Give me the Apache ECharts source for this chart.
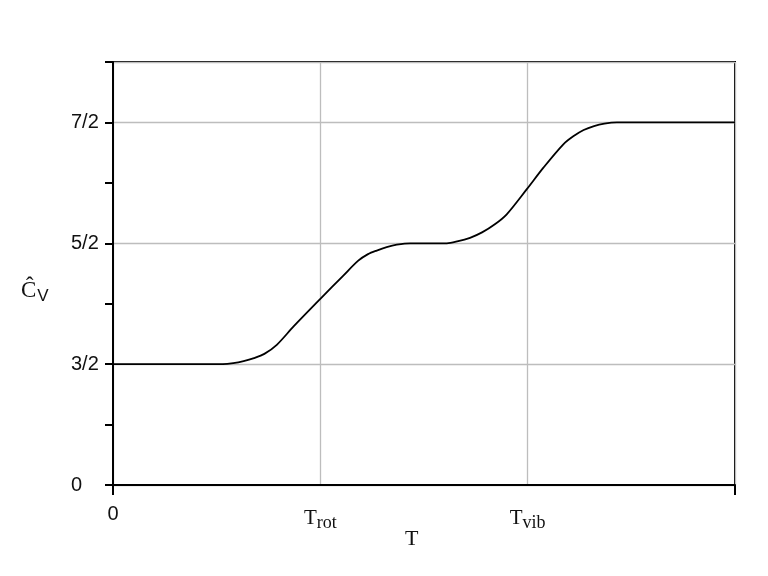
<!DOCTYPE html>
<html>
<head>
<meta charset="utf-8">
<script src="https://cdn.jsdelivr.net/npm/echarts@6/dist/echarts.min.js"></script>
<style>
html,body{margin:0;padding:0;background:#fff;}
#chart{width:768px;height:576px;}
</style>
</head>
<body>
<div id="chart"></div>
<script>
// Temperature in axis units (T_rot = 1, T_vib = 2)
const tValues = [0, 0.53, 0.58, 0.63, 0.68, 0.73, 0.79, 0.87, 1.0, 1.111, 1.183, 1.23, 1.272, 1.32, 1.369, 1.433,
  1.61, 1.66, 1.722, 1.78, 1.84, 1.899, 1.996, 2.076, 2.172, 2.22, 2.27, 2.32, 2.37, 2.43, 3.0];
// Heat capacity (in units of k)
const cvValues = [1.5, 1.5, 1.508, 1.525, 1.55, 1.585, 1.66, 1.81, 2.04, 2.233, 2.356, 2.41, 2.44, 2.468, 2.488, 2.5,
  2.5, 2.515, 2.545, 2.59, 2.655, 2.74, 2.948, 3.126, 3.319, 3.385, 3.437, 3.47, 3.49, 3.5, 3.5];
const yTickValues = [0, 1.5, 2.5, 3.5];
const yTickLabels = ['0', '3/2', '5/2', '7/2'];
const xTickValues = [0, 1, 2];
const xTickLabels = ['{n|0}', '{t|T}{s|rot}', '{t|T}{s|vib}'];

// The vertical axis is not linear: 0, 3/2, 5/2, 7/2 are evenly spaced
function cvToAxis(v) { return v >= 1.5 ? v - 0.5 : v / 1.5; }
const yAxisPos = yTickValues.map(cvToAxis);

const chart = echarts.init(document.getElementById('chart'));
const sans = 'Liberation Sans';
const serif = 'Liberation Serif';
const ink = '#111';
const option = {
  animation: false,
  grid: { left: 113, right: 33, top: 62, bottom: 91, show: true, borderColor: '#000', borderWidth: 2, backgroundColor: 'transparent' },
  xAxis: [
    {
      type: 'value', min: 0, max: 3, interval: 1, position: 'bottom',
      axisLine: { show: true, lineStyle: { color: '#000', width: 2 } },
      axisTick: { show: false },
      splitLine: { show: true, lineStyle: { color: '#bdbdbd', width: 1.3 } },
      axisLabel: {
        margin: 19,
        formatter: function (v) { const i = xTickValues.indexOf(v); return i >= 0 ? xTickLabels[i] : ''; },
        rich: {
          n: { fontFamily: sans, fontSize: 20, color: ink },
          t: { fontFamily: serif, fontSize: 21, color: ink },
          s: { fontFamily: serif, fontSize: 18, color: ink, padding: [10, 0, 0, 0] }
        }
      }
    },
    {
      type: 'value', min: 0, max: 3, interval: 3, position: 'bottom', offset: 0,
      axisLine: { show: false },
      axisTick: { show: true, length: 10, lineStyle: { color: '#000', width: 2 } },
      splitLine: { show: false },
      axisLabel: { show: false }
    }
  ],
  yAxis: [
    {
      type: 'value', min: 0, max: 3.5, interval: 0.5, position: 'left',
      axisLine: { show: true, lineStyle: { color: '#000', width: 2 } },
      axisTick: { show: true, length: 8, lineStyle: { color: '#000', width: 2 } },
      splitLine: { show: false },
      axisLabel: {
        margin: 42, align: 'left', fontFamily: sans, fontSize: 20, color: ink,
        formatter: function (v) { const i = yAxisPos.indexOf(v); return i >= 0 ? yTickLabels[i] : ''; }
      }
    },
    {
      type: 'value', min: 0, max: 3.5, interval: 1, position: 'left', offset: 0,
      axisLine: { show: false }, axisTick: { show: false }, axisLabel: { show: false },
      splitLine: { show: true, lineStyle: { color: '#bdbdbd', width: 1.3 } }
    }
  ],
  graphic: [
    { type: 'text', left: 405, top: 528, style: { text: 'T', font: '22px "Liberation Serif"', fill: ink } },
    { type: 'text', left: 21, top: 279, style: {
        text: '{c|Ĉ}{v|V}',
        rich: {
          c: { fontFamily: serif, fontSize: 23, fill: ink },
          v: { fontFamily: sans, fontSize: 17, fill: ink, padding: [12, 0, 0, 1] }
        }
      } }
  ],
  series: [{
    type: 'line', xAxisIndex: 0, yAxisIndex: 0, showSymbol: false, smooth: 0.3,
    lineStyle: { color: '#000', width: 1.8 },
    data: tValues.map((t, i) => [t, cvToAxis(cvValues[i])]),
    z: 5
  }]
};
chart.setOption(option);
</script>
</body>
</html>
